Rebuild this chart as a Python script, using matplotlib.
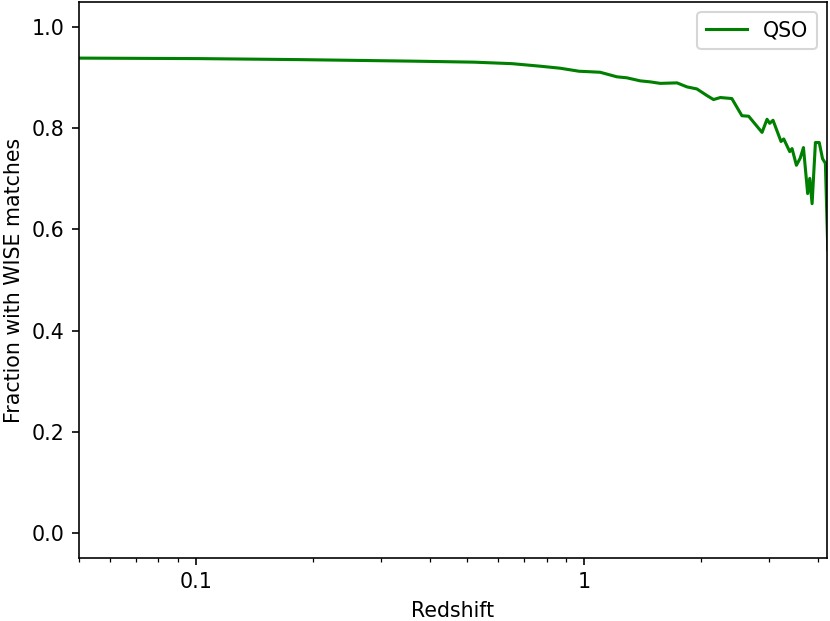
import matplotlib
matplotlib.use("Agg")
import matplotlib.pyplot as plt
from matplotlib.ticker import FormatStrFormatter, NullFormatter

redshift = [0.05, 0.102, 0.185, 0.36, 0.52, 0.652, 0.77, 0.867, 0.97, 1.036, 1.099,
            1.214, 1.288, 1.394, 1.479, 1.57, 1.734, 1.84, 1.951, 2.07, 2.153,
            2.242, 2.40, 2.548, 2.652, 2.871, 2.957, 3.004, 3.064, 3.213, 3.265,
            3.383, 3.43, 3.52, 3.60, 3.67, 3.763, 3.81, 3.863, 3.94, 4.03,
            4.11, 4.18, 4.24]
frac_wise = [0.939, 0.938, 0.936, 0.933, 0.931, 0.928, 0.923, 0.919, 0.913, 0.912, 0.911,
             0.902, 0.900, 0.894, 0.892, 0.889, 0.890, 0.882, 0.878, 0.865, 0.857,
             0.861, 0.859, 0.825, 0.824, 0.792, 0.818, 0.810, 0.816, 0.774, 0.779,
             0.754, 0.760, 0.727, 0.741, 0.762, 0.671, 0.701, 0.651, 0.772, 0.772,
             0.740, 0.731, 0.560]

dpi = 148
fig = plt.figure(figsize=(830 / dpi, 621 / dpi), dpi=dpi)
ax = fig.add_axes([79 / 830, 1 - 558 / 621, 748 / 830, 556 / 621])

ax.plot(redshift, frac_wise, color="green", label="QSO")
ax.set_xscale("log")
ax.set_xlim(0.05, 4.22)
ax.set_ylim(-0.05, 1.05)
ax.xaxis.set_major_formatter(FormatStrFormatter("%g"))
ax.xaxis.set_minor_formatter(NullFormatter())
ax.set_xlabel("Redshift")
ax.set_ylabel("Fraction with WISE matches")
ax.legend(loc="upper right")

fig.savefig("out.png", dpi=dpi)
